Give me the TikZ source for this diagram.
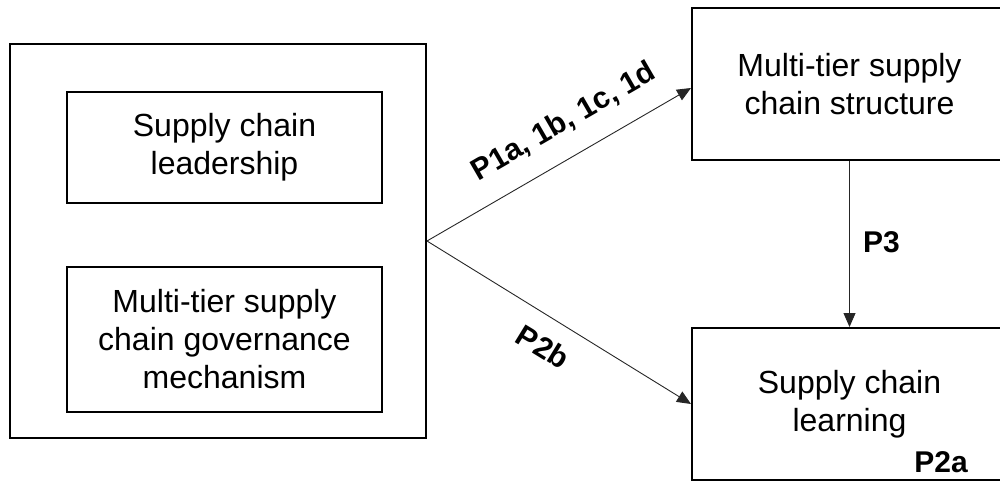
\documentclass[tikz,border=0pt]{standalone}
\usepackage{fontspec}
\setmainfont{Liberation Sans}
\usetikzlibrary{arrows.meta}
\begin{document}
\begin{tikzpicture}[x=1pt,y=-1pt,
  box/.style={draw=black, line width=2pt, rectangle, align=center, inner sep=0pt,
    font=\fontsize{32}{38}\selectfont},
  conn/.style={draw=black!85, line width=0.9pt, -{Triangle[length=14pt,width=12pt]}},
  lab/.style={font=\fontsize{30}{34}\selectfont\bfseries, inner sep=0pt}
]
\useasboundingbox (0,0) rectangle (1000,481);
% boxes
\node[box, minimum width=416pt, minimum height=394pt] (outer) at (218,241) {};
\node[box, minimum width=315pt, minimum height=111pt] (lead) at (224.5,147.5) {Supply chain\\leadership};
\node[box, minimum width=315pt, minimum height=145pt] (gov) at (224.5,339.5) {Multi-tier supply\\chain governance\\mechanism};
\node[box, minimum width=315pt, minimum height=152pt] (sc) at (849.5,84) {Multi-tier supply\\chain structure};
\node[box, minimum width=315pt, minimum height=152pt] (sl) at (849.5,404) {Supply chain\\learning};
% connectors
\draw[conn] (outer.east) -- ([yshift=-4pt]sc.west);
\draw[conn] (outer.east) -- (sl.west);
\draw[conn] (sc.south) -- (sl.north);
% labels
\node[lab, rotate=30] (l1) at (564,122) {P1a, 1b, 1c, 1d};
\node[lab, rotate=-31.5] (l2) at (543,347) {P2b};
\node[lab, anchor=west] (l3) at (863,242) {P3};
\node[lab, anchor=east] (l4) at (968,462) {P2a};
\end{tikzpicture}
\end{document}
